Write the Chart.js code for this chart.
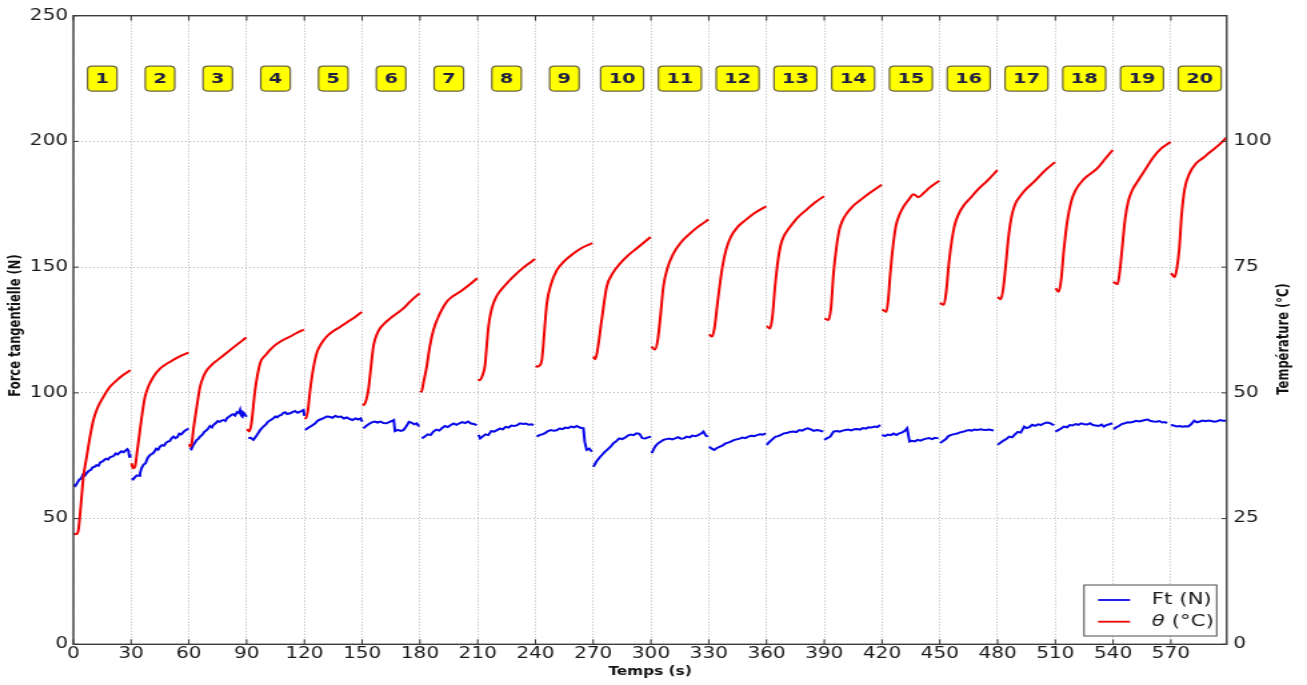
<!DOCTYPE html>
<html>
<head>
<meta charset="utf-8">
<script src="https://cdn.jsdelivr.net/npm/chart.js@4.4.1/dist/chart.umd.min.js"></script>
<style>
  html, body { margin: 0; padding: 0; background: #fff; overflow: hidden; }
  /* the figure is drawn on a 980px canvas and widened to the page width */
  #wrap { width: 980px; height: 685px; transform: scaleX(1.33367); transform-origin: 0 0; }
  canvas { display: block; }
</style>
</head>
<body>
<div id="wrap"><canvas id="c" width="980" height="685"></canvas></div>
<script>
// ---- data -------------------------------------------------------------
const cycleLabels = ['1','2','3','4','5','6','7','8','9','10','11','12','13','14','15','16','17','18','19','20'];
const cycleLength = 30; // s

const timeTicks  = [0,30,60,90,120,150,180,210,240,270,300,330,360,390,420,450,480,510,540,570];
const forceTicks = [0,50,100,150,200,250];
const tempTicks  = [0,25,50,75,100];

// temperature θ (°C), one row per cycle
const tempTime = [
  [0,1.5,2.6,3.5,4.3,5.2,7,8.5,10.4,12.5,15.6,19,22.5,26,29.6],
  [30.2,31,32,33,34.6,36,37.2,39,41.6,45,50.3,55,59.8],
  [60.2,60.8,61.5,62.3,64,65.8,67.5,69.3,72.5,76.2,82,89.8],
  [90.3,91.4,92.5,94.4,97,100,103.9,108,112.6,116,119.8],
  [120.2,120.8,121.8,123,124.7,126.4,128.8,131.6,135,138.5,142,146,149.8],
  [150.2,151,152,153.2,154.5,155.8,156.8,158.5,161,164.5,168,171.4,175,179.8],
  [180.2,180.8,181.8,183.5,185,187,190,193.9,197,200.8,205,209.8],
  [210.2,211,212.5,213.8,214.7,215.6,216.6,218,219.9,224,228.5,234,239.8],
  [240.2,240.9,242,243.3,245,245.9,248,251.1,255,259.7,264,269.6],
  [270.1,271,272,274.4,277,280,283.9,288,292.5,296,299.8],
  [300.3,302,303.5,304.7,306.4,308.5,311.6,315.5,320.3,324,328.1,329.8],
  [330.2,331.8,333,334.5,337.1,339,341.4,345,349.2,354,359.8],
  [360.1,361.8,363,364.4,366,367.3,368.8,370.5,372.2,376,381,385,389.8],
  [390.1,392.2,393.5,394.8,396.4,397.8,399.5,401.7,405,408.6,413,419.8],
  [420.1,422.2,423.2,424.3,425.8,427.2,428.9,431.1,434,436.3,438.9,441.5,445,449.8],
  [450.1,452.1,453.3,454.7,456.2,457.7,459.6,462.5,466,469.5,475,479.8],
  [480.1,481.7,483,484.3,485.8,487.3,489.2,492.1,495,499,504,509.8],
  [510.1,511.8,513,514.4,516.2,518.2,520.5,524.8,531.6,536,539.8],
  [540.1,542.3,543.4,544.6,546.2,547.8,549.8,552.3,556,561,565,569.8],
  [570.1,572,573.2,574.3,575.6,577.2,579.5,583,587,590.4,595,599]
];
const tempC = [
  [22.0,21.9,22.7,26,29.5,33.3,37.5,41,44.6,47,49.2,51.2,52.5,53.6,54.5],
  [36,35.0,35.3,38,42.6,46.5,49.2,51.3,53.2,54.8,56.2,57.2,58.0],
  [39.8,39.3,40,42.6,47,51.2,53.2,54.5,55.8,56.9,58.7,61.0],
  [42.8,42.3,44,50.6,55.9,57.6,59.2,60.3,61.2,61.9,62.6],
  [45.1,44.9,46.5,50.6,55,57.9,59.8,61.2,62.3,63.1,64,65,66.1],
  [47.8,47.6,48.5,50.6,55,59.2,60.8,62.4,63.6,64.8,65.8,66.8,68.2,69.8],
  [50.4,50.2,52,55.2,59,62.5,65.5,68.1,69.2,70.1,71.3,72.8],
  [52.7,52.5,53.5,55.5,59.5,63.2,65.6,67.6,69.3,71.3,73.1,75,76.6],
  [55.4,55.2,55.4,56.5,64,67.8,71.5,74.4,76.2,77.7,78.8,79.8],
  [57.2,56.7,58,64.5,71.1,73.7,75.7,77.3,78.7,79.8,81.0],
  [59.2,58.6,60.5,64.5,71.1,74.8,77.7,79.9,81.7,82.9,84.0,84.5],
  [61.6,61.2,63,67.8,75.1,78.5,81.0,83,84.4,85.8,87.1],
  [63.3,62.8,65,71.1,76.5,79.3,81.0,82.1,83.0,84.8,86.5,87.8,89.1],
  [64.8,64.5,67,73.8,79.2,82.4,84.3,85.7,87.2,88.3,89.6,91.4],
  [66.6,66.1,68.5,73.8,79.5,83.2,85.3,87.0,88.5,89.5,88.9,89.7,90.9,92.2],
  [67.9,67.5,70,75.7,80.2,83.3,85.4,87.3,88.8,90.3,92.3,94.3],
  [69.1,68.6,71,75.7,81.5,85.2,87.6,89.3,90.6,92.0,94,95.9],
  [70.8,70.1,72.5,78.4,84.2,88.0,90.3,92.5,94.6,96.6,98.3],
  [72.1,71.6,74,78.4,84.5,88.0,90.2,91.8,94,96.9,98.6,99.9],
  [73.8,73.0,75,78.4,85.5,90.6,93.5,95.6,96.8,97.9,99.3,100.8]
];

// tangential force Ft (N), one row per cycle
const forceTime = [
  [0,1,2,3,4,5,6,7,8,9,10,11,12,13,14,15,16,17,18,19,20,21,22,23,24,25,26,27,28,28.6,29.1,29.5],
  [30.3,31,32,33,34,34.6,35.5,36.5,37.5,38.5,39.8,41,42,43,44,45,46,47,48,49,50,51,52,53,54,55,56,57,58,59,59.8],
  [60.6,61.3,62,63,64,65,65.8,67,68,69,70,71,72,72.7,74,75,76,77,78,79,79.7,81,82,83,84,85,86,86.6,87.2,87.8,88.5,89.3,90],
  [90.9,92,93.5,95,96,97,98.7,100,101,102.5,103.9,105,106,107,108,109,110,111,112.6,114,115,116.5,118,119.5,120],
  [120.4,121.5,122.5,124,125.5,127,128.5,130,131.5,133,134.5,136,137.5,139,140.5,142,143.5,145,146.5,148,149.2,150],
  [150.6,152,153.5,155,156.5,158,159.5,161,162.7,164,165.5,166.4,167,168.5,170,171.4,173,174.3,175.5,177,178.3,179.5],
  [181,182.5,184,185.5,187,188.5,190,191.5,193,194.5,196,197.5,199,200.5,202,203.5,205,206.5,208,209.5],
  [210.4,211.3,212.5,214,215.5,217,218.5,220,221.5,223,224.5,226,227.5,229,230.5,232,233.5,235,236.5,238,239],
  [240.7,242,243.5,245,246.5,248,249.5,251,252.5,254,255.5,257,258.5,260,261.5,263,264.9,265.6,266.6,268,269.3],
  [270.1,271.5,273,274.5,276,277.5,279,280.5,282,283.5,285,286.5,288,289.5,291,292.5,294,295.5,297,298.5,300],
  [300.4,302.1,303.5,305,306.4,308,309.5,311,312.5,314,315.5,317,318.5,320,321.5,323,324.5,326,327.2,328.5,329.5],
  [330.2,331.5,332.8,334,335.5,337,338.5,340,341.4,343,344.5,346,347.5,349,350.5,352,353.5,355,356.5,358,359.6],
  [360.1,361.5,363,364.5,366,367.5,369,370.5,372,373.9,375.5,377,378.5,380,381.5,383,384.5,386,387.5,389.5],
  [390,391.5,393,394.8,396.5,398,399.5,401,402.5,404,405.5,407,408.5,410,411.5,413,414.5,416,417.5,419.1],
  [420,421.5,423,424.5,426,427.5,429,430.5,432,433,434.3,435.5,437,438.5,440,441.5,443,444.5,446,447.5,449.3],
  [450.2,451.5,453,454.5,456,457.5,459,460.5,462,463.5,465,466.5,468,469.5,471,472.5,474,475.5,477.9],
  [480,481.5,483,484.5,486,487.5,489,490.5,492,493.8,495,496.5,498,499.5,501,502.5,504.2,505.5,507,508.3,509.4],
  [510,511.5,513,514.4,516,517.5,519,520.5,522,523.5,525,526.5,528,529.5,531,532.5,534,535.2,536.5,538,539.6],
  [540.3,541.5,543,544.5,546,547.5,549,550.5,552,553.5,555,556.5,558,559.5,561,562.5,564,565.5,567,568],
  [570,571.5,573,574.5,576,577.5,579,580.5,582.1,583.5,585,586.5,588,589.5,591,592.5,594,595.5,597,599]
];
const forceN = [
  [63.5,63.0,64.2,65.5,65.9,67.5,67.1,68.2,69.0,69.3,70.4,70.6,71.2,71.0,72.4,72.6,73.3,73.8,73.5,74.4,74.6,75.0,75.9,75.5,76.2,76.8,76.4,77.0,77.6,77.0,74.6,75.5],
  [66.0,65.6,66.5,67.2,67.0,68.0,70.2,71.5,72.0,74.0,75.3,75.8,76.5,77.8,77.4,78.6,79.2,79.0,80.0,80.6,80.8,81.9,82.6,82.0,82.4,83.8,83.5,84.3,85.0,85.4,85.9],
  [78.0,77.6,78.8,80.0,81.2,81.8,82.6,83.4,84.5,85.0,85.8,86.8,86.3,87.2,88.0,88.8,88.5,89.0,89.2,88.8,89.9,90.6,91.2,91.5,91.0,92.3,92.0,93.2,91.0,90.5,92.0,91.2,90.5],
  [81.9,82.2,81.3,82.8,84.0,85.2,86.6,87.4,88.5,89.2,89.9,90.6,90.3,91.0,91.2,92.0,92.3,91.6,91.9,92.4,92.8,92.1,92.6,93.2,90.8],
  [85.2,85.8,86.3,87.0,87.8,89.0,89.5,89.9,90.6,90.5,90.1,90.8,90.4,90.6,89.8,90.2,89.6,89.2,89.8,89.4,89.9,88.5],
  [85.9,86.8,87.6,88.3,88.6,88.2,88.6,88.0,87.9,88.4,88.9,89.2,84.8,85.3,84.9,85.2,86.8,88.5,88.2,87.5,87.9,86.6],
  [81.9,82.6,83.5,83.2,84.6,85.4,85.0,86.0,86.8,86.4,87.2,87.8,87.3,87.9,88.4,88.0,88.6,87.8,87.6,87.2],
  [83.3,81.9,82.6,83.5,83.2,84.8,84.6,85.2,85.8,85.5,86.5,86.2,87.0,86.8,87.2,87.9,87.6,87.8,87.3,87.5,87.2],
  [82.6,83.2,83.5,84.0,84.8,85.2,84.9,85.1,85.8,85.6,86.2,86.0,86.6,86.3,86.8,86.2,85.9,80.5,77.3,77.8,76.6],
  [70.6,72.5,74.0,75.3,76.5,77.5,78.6,80.0,80.8,81.9,81.6,82.2,83.0,83.4,83.2,83.9,83.7,82.0,81.9,82.3,82.6],
  [76.0,78.6,79.8,80.6,81.3,81.6,81.8,81.5,81.9,82.4,81.8,81.9,82.6,82.3,83.0,82.8,83.2,83.8,84.6,83.0,82.5],
  [78.6,77.8,77.3,78.0,78.5,79.0,79.8,80.2,80.6,81.2,81.5,81.8,82.2,82.0,82.6,82.9,82.8,83.2,83.5,83.4,83.9],
  [79.3,80.5,81.5,82.5,82.8,83.3,83.9,84.0,84.4,84.6,84.4,85.2,85.0,85.6,85.9,85.5,84.9,85.2,85.0,84.6],
  [81.3,82.0,82.5,84.6,84.8,84.6,85.0,85.2,85.4,85.1,85.5,85.6,85.4,86.0,85.8,86.3,86.2,86.6,86.4,87.2],
  [83.3,82.8,83.4,83.2,83.8,83.2,83.9,84.3,85.0,85.9,80.6,80.9,80.7,81.3,81.0,81.5,81.8,82.0,81.6,82.1,81.9],
  [80.0,80.8,81.5,82.8,83.3,83.6,83.8,84.3,84.5,84.9,85.2,85.0,85.4,85.2,85.5,85.3,85.2,85.4,85.0],
  [79.3,80.2,81.0,81.6,82.6,82.3,83.5,84.5,84.2,86.6,86.0,86.4,87.3,86.9,87.5,87.2,87.9,88.2,88.0,87.5,87.2],
  [84.6,85.2,85.8,86.6,86.3,87.2,87.0,87.6,87.3,87.9,87.5,87.4,87.9,87.2,87.0,86.8,87.4,86.6,87.2,87.5,87.9],
  [85.5,86.3,86.8,87.6,87.9,88.3,88.2,88.5,88.9,88.6,88.9,89.2,89.4,88.8,88.6,88.5,88.8,88.2,88.4,87.9],
  [87.2,87.0,86.6,86.8,86.5,86.7,86.6,87.5,88.9,88.3,88.6,89.0,88.7,89.0,88.8,88.5,88.7,89.2,88.9,88.9]
];

// ---- helpers ------------------------------------------------------------
// one polyline per cycle, separated by a gap
function cyclePoints(times, values) {
  const pts = [];
  times.forEach((row, i) => {
    if (i > 0) pts.push({ x: row[0], y: null });
    row.forEach((t, j) => pts.push({ x: t, y: values[i][j] }));
  });
  return pts;
}

const FONT = "'DejaVu Sans', 'Liberation Sans', sans-serif";
const BLUE = '#0808e8';
const RED = '#f00000';

// frame, inward ticks, cycle tags, legend and axis titles
const decorations = {
  id: 'decorations',
  afterDatasetsDraw(chart, args, opts) {
    const { ctx, chartArea: a, scales } = chart;
    const sx = scales.x, sy = scales.y, sy1 = scales.y1;
    ctx.save();

    // tick marks pointing into the plot
    ctx.strokeStyle = '#333';
    ctx.lineWidth = 1;
    ctx.beginPath();
    timeTicks.forEach(v => {
      const px = sx.getPixelForValue(v);
      ctx.moveTo(px, a.bottom); ctx.lineTo(px, a.bottom - 5);
      ctx.moveTo(px, a.top); ctx.lineTo(px, a.top + 5);
    });
    forceTicks.forEach(v => {
      const py = sy.getPixelForValue(v);
      ctx.moveTo(a.left, py); ctx.lineTo(a.left + 4, py);
    });
    tempTicks.forEach(v => {
      const py = sy1.getPixelForValue(v);
      ctx.moveTo(a.right, py); ctx.lineTo(a.right - 4, py);
    });
    ctx.stroke();

    // plot frame
    ctx.strokeStyle = '#3c3c3c';
    ctx.lineWidth = 1.4;
    ctx.strokeRect(a.left, a.top, a.right - a.left, a.bottom - a.top);

    // cycle number tags
    const tagY = sy.getPixelForValue(opts.tagLevel);
    ctx.font = `bold 14.5px ${FONT}`;
    ctx.textAlign = 'center';
    ctx.textBaseline = 'middle';
    cycleLabels.forEach((lab, i) => {
      const cx = sx.getPixelForValue(i * cycleLength + cycleLength / 2);
      const w = ctx.measureText(lab).width + 12;
      const h = 25;
      ctx.beginPath();
      ctx.roundRect(cx - w / 2, tagY - h / 2, w, h, 3.5);
      ctx.fillStyle = '#ffff00';
      ctx.fill();
      ctx.strokeStyle = '#6b6540';
      ctx.lineWidth = 1.2;
      ctx.stroke();
      ctx.fillStyle = '#1e1e44';
      ctx.fillText(lab, cx, tagY + 0.5);
    });

    // legend box, lower right
    const lx1 = a.right - 7.5, ly1 = a.bottom - 8.3;
    const lx0 = lx1 - 99.5, ly0 = ly1 - 51;
    ctx.fillStyle = '#fff';
    ctx.fillRect(lx0, ly0, lx1 - lx0, ly1 - ly0);
    ctx.strokeStyle = '#4a4a4a';
    ctx.lineWidth = 1;
    ctx.strokeRect(lx0, ly0, lx1 - lx0, ly1 - ly0);
    const rows = [
      { color: BLUE, y: ly0 + 15, parts: [['Ft (N)', '']] },
      { color: RED, y: ly0 + 36.7, parts: [['θ', 'italic '], [' (°C)', '']] }
    ];
    ctx.textAlign = 'left';
    ctx.textBaseline = 'middle';
    rows.forEach(r => {
      ctx.strokeStyle = r.color;
      ctx.lineWidth = 1.8;
      ctx.beginPath();
      ctx.moveTo(lx0 + 10.5, r.y);
      ctx.lineTo(lx0 + 34.5, r.y);
      ctx.stroke();
      let tx = lx0 + 50.8;
      ctx.fillStyle = '#1a1a1a';
      r.parts.forEach(([txt, style]) => {
        ctx.font = `${style}16px ${FONT}`;
        ctx.fillText(txt, tx, r.y);
        tx += ctx.measureText(txt).width;
      });
    });

    // axis titles
    ctx.fillStyle = '#111';
    ctx.font = `bold 11.5px ${FONT}`;
    ctx.textAlign = 'center';
    ctx.textBaseline = 'middle';
    ctx.fillText('Temps (s)', (a.left + a.right) / 2, 672);

    ctx.save();
    ctx.translate(11.6, 325.5);
    ctx.rotate(-Math.PI / 2);
    ctx.fillText('Force tangentielle (N)', 0, 0);
    ctx.restore();

    ctx.save();
    ctx.translate(963.5, 339);
    ctx.rotate(-Math.PI / 2);
    ctx.fillText('Température (°C)', 0, 0);
    ctx.restore();

    ctx.restore();
  }
};

const tickFont = { family: FONT, size: 15 };

new Chart(document.getElementById('c'), {
  type: 'line',
  data: {
    datasets: [
      {
        label: 'θ (°C)',
        data: cyclePoints(tempTime, tempC),
        yAxisID: 'y1',
        borderColor: RED,
        borderWidth: 2,
        pointRadius: 0,
        cubicInterpolationMode: 'monotone',
        spanGaps: false,
        order: 0
      },
      {
        label: 'Ft (N)',
        data: cyclePoints(forceTime, forceN),
        yAxisID: 'y',
        borderColor: BLUE,
        borderWidth: 2,
        pointRadius: 0,
        tension: 0,
        spanGaps: false,
        order: 1
      }
    ]
  },
  options: {
    responsive: false,
    animation: false,
    devicePixelRatio: 1,
    layout: { padding: { top: 15.7, left: 0, right: 0, bottom: 0 } },
    plugins: {
      legend: { display: false },
      tooltip: { enabled: false },
      decorations: { tagLevel: 225 }
    },
    scales: {
      x: {
        type: 'linear',
        min: 0,
        max: 599,
        afterBuildTicks: s => { s.ticks = timeTicks.map(v => ({ value: v })); },
        afterFit: s => { s.height = 40.7; },
        ticks: { font: tickFont, color: '#1a1a1a', padding: 1, maxRotation: 0, autoSkip: false, includeBounds: false },
        grid: { color: '#b4b4b4', lineWidth: 1, drawTicks: false },
        border: { display: false, dash: [1, 2] }
      },
      y: {
        position: 'left',
        min: 0,
        max: 250,
        afterBuildTicks: s => { s.ticks = forceTicks.map(v => ({ value: v })); },
        afterFit: s => { s.width = 55.0; },
        ticks: { font: tickFont, color: '#1a1a1a', padding: 4 },
        grid: { color: '#b4b4b4', lineWidth: 1, drawTicks: false },
        border: { display: false, dash: [1, 2] }
      },
      y1: {
        position: 'right',
        min: 0,
        max: 125,
        afterBuildTicks: s => { s.ticks = tempTicks.map(v => ({ value: v })); },
        afterFit: s => { s.width = 60.2; },
        ticks: { font: tickFont, color: '#1a1a1a', padding: 5 },
        grid: { drawOnChartArea: false, drawTicks: false },
        border: { display: false }
      }
    }
  },
  plugins: [decorations]
});
</script>
</body>
</html>
